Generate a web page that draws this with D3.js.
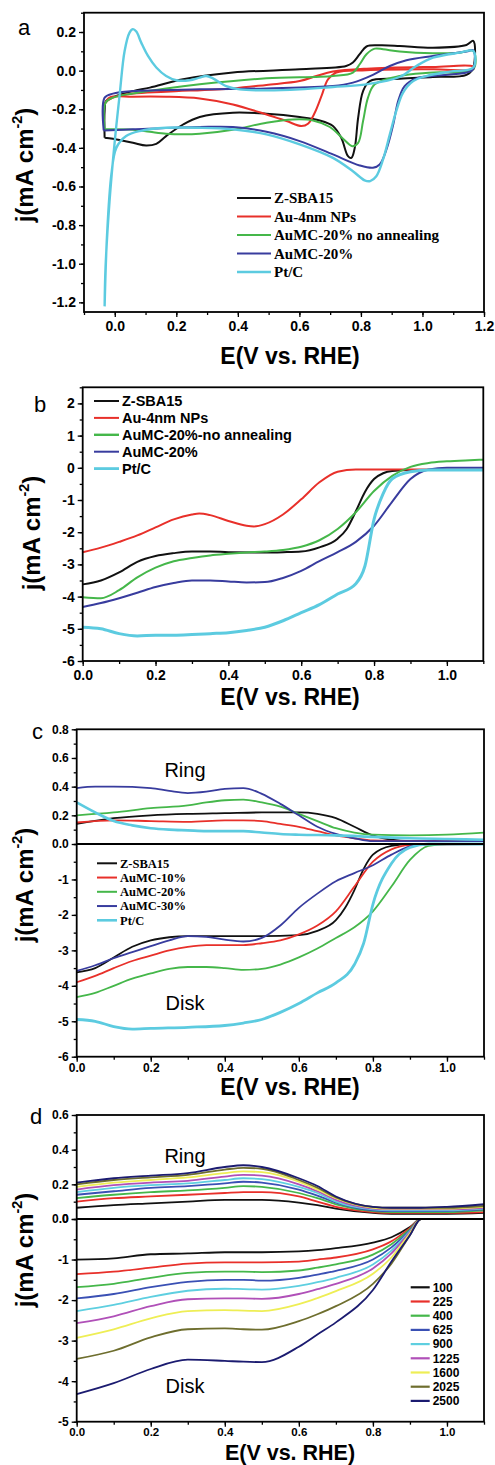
<!DOCTYPE html>
<html>
<head>
<meta charset="utf-8">
<script src="https://cdn.jsdelivr.net/npm/d3@7/dist/d3.min.js"></script>
<style>
body { margin: 0; background: #fff; }
svg text { font-family: Arial, "Liberation Sans", sans-serif; }
.tick text { font-weight: bold; }
</style>
</head>
<body>
<svg id="fig" width="495" height="1465"></svg>
<script>
// ---- panel a : CV loops  [E, j]
var cvZSBA15 = [[-0.033,-0.348],[-0.006,-0.353],[0.059,-0.374],[0.102,-0.388],[0.135,-0.379],[0.167,-0.339],[0.222,-0.279],[0.276,-0.240],[0.384,-0.218],[0.493,-0.223],[0.601,-0.240],[0.666,-0.258],[0.709,-0.287],[0.736,-0.348],[0.758,-0.443],[0.769,-0.452],[0.780,-0.400],[0.791,-0.244],[0.807,-0.106],[0.829,-0.054],[0.926,-0.042],[1.034,-0.033],[1.143,-0.022],[1.165,0.016],[1.165,0.154],[1.143,0.133],[1.034,0.119],[0.926,0.128],[0.861,0.131],[0.818,0.125],[0.796,0.085],[0.774,0.042],[0.752,0.024],[0.601,0.007],[0.384,-0.010],[0.222,-0.045],[0.114,-0.088],[0.059,-0.106],[0.005,-0.131],[-0.028,-0.157],[-0.033,-0.209],[-0.033,-0.348]];
var cvAu4nm = [[-0.033,-0.175],[-0.017,-0.14],[0.059,-0.135],[0.167,-0.135],[0.276,-0.144],[0.384,-0.175],[0.493,-0.227],[0.558,-0.261],[0.607,-0.287],[0.628,-0.275],[0.650,-0.218],[0.672,-0.131],[0.693,-0.045],[0.720,-0.010],[0.818,0.002],[1.034,0.007],[1.165,0.007],[1.165,0.021],[1.034,0.019],[0.818,0.010],[0.709,-0.005],[0.655,-0.028],[0.601,-0.054],[0.493,-0.074],[0.384,-0.092],[0.167,-0.109],[0.059,-0.119],[-0.006,-0.14],[-0.030,-0.166],[-0.033,-0.175]];
var cvAuMC20na = [[-0.033,-0.304],[0.059,-0.306],[0.114,-0.317],[0.167,-0.327],[0.222,-0.330],[0.276,-0.327],[0.384,-0.306],[0.493,-0.270],[0.579,-0.253],[0.644,-0.258],[0.699,-0.292],[0.741,-0.351],[0.772,-0.391],[0.791,-0.374],[0.807,-0.261],[0.823,-0.140],[0.845,-0.071],[0.926,-0.028],[1.034,-0.010],[1.165,0.007],[1.165,0.102],[1.121,0.093],[1.034,0.090],[0.926,0.099],[0.872,0.111],[0.845,0.114],[0.818,0.085],[0.796,0.033],[0.774,-0.010],[0.709,-0.028],[0.493,-0.040],[0.276,-0.071],[0.167,-0.092],[0.059,-0.118],[-0.006,-0.14],[-0.030,-0.166],[-0.033,-0.304]];
var cvAuMC20 = [[-0.036,-0.310],[0.059,-0.304],[0.276,-0.292],[0.384,-0.292],[0.493,-0.317],[0.601,-0.365],[0.709,-0.434],[0.796,-0.491],[0.839,-0.503],[0.861,-0.486],[0.883,-0.408],[0.905,-0.279],[0.921,-0.157],[0.942,-0.080],[0.980,-0.040],[1.034,-0.028],[1.143,-0.010],[1.165,0.007],[1.165,0.106],[1.143,0.099],[1.034,0.076],[0.948,0.054],[0.894,0.024],[0.839,-0.022],[0.774,-0.062],[0.709,-0.080],[0.493,-0.092],[0.276,-0.097],[0.059,-0.106],[-0.006,-0.119],[-0.033,-0.140],[-0.036,-0.310]];
var cvPtC = [[-0.033,-1.221],[-0.030,-1.02],[-0.017,-0.676],[0.000,-0.365],[0.016,-0.123],[0.032,0.102],[0.048,0.197],[0.059,0.215],[0.070,0.202],[0.086,0.145],[0.108,0.076],[0.135,0.016],[0.167,-0.028],[0.200,-0.050],[0.243,-0.050],[0.276,-0.036],[0.297,-0.028],[0.319,-0.040],[0.362,-0.080],[0.406,-0.097],[0.493,-0.102],[0.601,-0.097],[0.709,-0.085],[0.818,-0.071],[0.926,-0.033],[0.980,0.024],[1.034,0.067],[1.121,0.093],[1.165,0.102],[1.165,0.016],[1.089,-0.005],[1.013,-0.028],[0.970,-0.054],[0.937,-0.114],[0.915,-0.209],[0.894,-0.330],[0.872,-0.460],[0.850,-0.547],[0.830,-0.572],[0.812,-0.568],[0.774,-0.521],[0.709,-0.452],[0.601,-0.382],[0.493,-0.330],[0.384,-0.304],[0.276,-0.296],[0.167,-0.296],[0.081,-0.313],[0.037,-0.339],[0.005,-0.400],[-0.011,-0.538],[-0.025,-0.849],[-0.033,-1.221]];
var namesA = ["Z-SBA15", "Au-4nm NPs", "AuMC-20% no annealing", "AuMC-20%", "Pt/C"];

// ---- panel b : LSV disk
var lsvB_ZSBA15 = [[0,-3.62],[0.05,-3.5],[0.1,-3.25],[0.15,-2.92],[0.2,-2.74],[0.25,-2.65],[0.3,-2.6],[0.35,-2.6],[0.4,-2.62],[0.5,-2.63],[0.55,-2.62],[0.6,-2.6],[0.65,-2.47],[0.7,-2.2],[0.725,-1.9],[0.75,-1.35],[0.775,-0.75],[0.8,-0.35],[0.825,-0.17],[0.85,-0.1],[0.9,-0.07],[1.1,-0.07]];
var lsvB_Au4nm = [[0,-2.62],[0.05,-2.48],[0.1,-2.3],[0.15,-2.1],[0.2,-1.85],[0.25,-1.6],[0.3,-1.45],[0.32,-1.42],[0.35,-1.47],[0.4,-1.65],[0.45,-1.8],[0.47,-1.82],[0.5,-1.75],[0.55,-1.45],[0.6,-0.98],[0.65,-0.45],[0.7,-0.12],[0.75,-0.05],[1.1,-0.05]];
var lsvB_AuMC20na = [[0,-4.02],[0.05,-4.05],[0.1,-3.8],[0.15,-3.4],[0.2,-3.1],[0.25,-2.9],[0.3,-2.8],[0.35,-2.72],[0.4,-2.67],[0.45,-2.63],[0.5,-2.6],[0.55,-2.55],[0.6,-2.45],[0.65,-2.25],[0.7,-1.9],[0.75,-1.38],[0.8,-0.72],[0.85,-0.25],[0.9,0.03],[0.95,0.15],[1.0,0.2],[1.05,0.23],[1.1,0.25]];
var lsvB_AuMC20 = [[0,-4.32],[0.05,-4.2],[0.1,-4.05],[0.15,-3.88],[0.2,-3.7],[0.25,-3.58],[0.3,-3.5],[0.35,-3.5],[0.4,-3.53],[0.45,-3.56],[0.5,-3.55],[0.55,-3.42],[0.6,-3.2],[0.65,-2.9],[0.7,-2.62],[0.75,-2.3],[0.8,-1.8],[0.85,-1.05],[0.9,-0.35],[0.95,-0.05],[1.0,0],[1.1,0]];
var lsvB_PtC = [[0,-4.95],[0.05,-5.0],[0.1,-5.15],[0.15,-5.22],[0.2,-5.2],[0.25,-5.2],[0.3,-5.18],[0.35,-5.15],[0.4,-5.12],[0.45,-5.05],[0.5,-4.95],[0.55,-4.75],[0.6,-4.5],[0.65,-4.25],[0.7,-3.92],[0.75,-3.6],[0.775,-3.05],[0.8,-1.6],[0.825,-0.8],[0.85,-0.34],[0.9,-0.12],[0.95,-0.07],[1.1,-0.07]];
var namesB = ["Z-SBA15", "Au-4nm NPs", "AuMC-20%-no annealing", "AuMC-20%", "Pt/C"];

// ---- panel c : ring (upper) and disk (lower)
var ringC_ZSBA15 = [[0,0.14],[0.1,0.18],[0.2,0.2],[0.3,0.21],[0.4,0.215],[0.5,0.22],[0.6,0.22],[0.65,0.21],[0.7,0.18],[0.75,0.12],[0.8,0.06],[0.85,0.03],[0.9,0.02],[1.1,0.02]];
var ringC_AuMC10 = [[0,0.15],[0.1,0.165],[0.2,0.16],[0.3,0.155],[0.4,0.165],[0.45,0.165],[0.5,0.16],[0.55,0.14],[0.6,0.12],[0.65,0.09],[0.7,0.06],[0.75,0.04],[0.8,0.025],[0.9,0.02],[1.1,0.02]];
var ringC_AuMC20 = [[0,0.2],[0.1,0.22],[0.2,0.25],[0.3,0.27],[0.35,0.29],[0.4,0.305],[0.45,0.31],[0.5,0.29],[0.55,0.26],[0.6,0.21],[0.65,0.16],[0.7,0.11],[0.75,0.08],[0.8,0.065],[0.9,0.06],[1.0,0.065],[1.1,0.08]];
var ringC_AuMC30 = [[0,0.39],[0.05,0.4],[0.1,0.4],[0.2,0.39],[0.25,0.37],[0.3,0.355],[0.35,0.365],[0.4,0.385],[0.45,0.39],[0.5,0.35],[0.55,0.28],[0.6,0.2],[0.65,0.12],[0.7,0.07],[0.75,0.04],[0.8,0.02],[0.9,0.02],[1.1,0.02]];
var ringC_PtC = [[0,0.29],[0.05,0.22],[0.1,0.16],[0.15,0.13],[0.2,0.11],[0.25,0.1],[0.3,0.095],[0.35,0.09],[0.45,0.09],[0.5,0.08],[0.55,0.07],[0.6,0.065],[0.7,0.06],[0.8,0.05],[0.9,0.04],[1.0,0.035],[1.1,0.03]];
var diskC_ZSBA15 = [[0,-3.62],[0.05,-3.5],[0.1,-3.2],[0.15,-2.9],[0.2,-2.72],[0.25,-2.63],[0.3,-2.6],[0.4,-2.6],[0.5,-2.6],[0.6,-2.57],[0.65,-2.45],[0.7,-2.15],[0.725,-1.8],[0.75,-1.3],[0.775,-0.7],[0.8,-0.3],[0.85,-0.05],[0.9,0],[1.1,0]];
var diskC_AuMC10 = [[0,-3.9],[0.05,-3.72],[0.1,-3.5],[0.15,-3.3],[0.2,-3.15],[0.25,-3.0],[0.3,-2.9],[0.35,-2.85],[0.45,-2.85],[0.5,-2.8],[0.55,-2.72],[0.6,-2.55],[0.65,-2.3],[0.7,-1.9],[0.75,-1.2],[0.8,-0.5],[0.85,-0.15],[0.9,-0.03],[1.1,0]];
var diskC_AuMC20 = [[0,-4.32],[0.05,-4.2],[0.1,-4.0],[0.15,-3.8],[0.2,-3.65],[0.25,-3.52],[0.3,-3.47],[0.35,-3.47],[0.4,-3.5],[0.45,-3.55],[0.5,-3.52],[0.55,-3.4],[0.6,-3.2],[0.65,-2.95],[0.7,-2.65],[0.75,-2.35],[0.8,-1.9],[0.85,-1.2],[0.9,-0.45],[0.95,-0.05],[1.0,0],[1.1,0]];
var diskC_AuMC30 = [[0,-3.58],[0.05,-3.42],[0.1,-3.22],[0.15,-3.05],[0.2,-2.88],[0.25,-2.72],[0.3,-2.6],[0.35,-2.62],[0.4,-2.7],[0.45,-2.75],[0.5,-2.65],[0.55,-2.3],[0.6,-1.8],[0.65,-1.4],[0.7,-1.05],[0.75,-0.82],[0.8,-0.6],[0.85,-0.3],[0.9,-0.07],[0.95,0],[1.1,0]];
var diskC_PtC = [[0,-4.95],[0.05,-5.0],[0.1,-5.15],[0.15,-5.22],[0.2,-5.2],[0.3,-5.17],[0.4,-5.12],[0.45,-5.05],[0.5,-4.95],[0.55,-4.75],[0.6,-4.5],[0.65,-4.2],[0.7,-3.92],[0.75,-3.4],[0.775,-2.8],[0.8,-1.7],[0.85,-0.55],[0.9,-0.1],[0.95,0],[1.1,0]];
var namesC = ["Z-SBA15", "AuMC-10%", "AuMC-20%", "AuMC-30%", "Pt/C"];

// ---- panel d : rotation rates (rpm)
var rpmD = ["100", "225", "400", "625", "900", "1225", "1600", "2025", "2500"];
var xD = [0, 0.1, 0.2, 0.3, 0.4, 0.45, 0.5, 0.6, 0.65, 0.7, 0.8, 0.85, 0.9, 0.93, 1.0, 1.1];
var diskD_100  = [-1.0, -0.97, -0.87, -0.85, -0.82, -0.82, -0.82, -0.8, -0.77, -0.72, -0.58, -0.45, -0.2, 0, 0, 0];
var diskD_225  = [-1.36, -1.3, -1.2, -1.1, -1.07, -1.07, -1.07, -1.05, -1.0, -0.95, -0.75, -0.55, -0.22, 0, 0, 0];
var diskD_400  = [-1.68, -1.6, -1.45, -1.33, -1.3, -1.3, -1.31, -1.27, -1.2, -1.12, -0.88, -0.62, -0.25, 0, 0, 0];
var diskD_625  = [-1.96, -1.85, -1.68, -1.55, -1.5, -1.5, -1.52, -1.45, -1.37, -1.28, -1.0, -0.7, -0.28, 0, 0, 0];
var diskD_900  = [-2.27, -2.12, -1.92, -1.77, -1.72, -1.73, -1.74, -1.65, -1.56, -1.45, -1.12, -0.78, -0.3, 0, 0, 0];
var diskD_1225 = [-2.57, -2.4, -2.15, -1.98, -1.96, -1.96, -1.97, -1.85, -1.73, -1.6, -1.22, -0.85, -0.32, 0, 0, 0];
var diskD_1600 = [-2.93, -2.72, -2.45, -2.27, -2.25, -2.26, -2.27, -2.1, -1.95, -1.78, -1.35, -0.95, -0.35, 0, 0, 0];
var diskD_2025 = [-3.45, -3.25, -2.92, -2.72, -2.7, -2.72, -2.73, -2.52, -2.35, -2.15, -1.6, -1.1, -0.4, 0, 0, 0];
var diskD_2500 = [-4.32, -4.05, -3.7, -3.47, -3.5, -3.52, -3.53, -3.15, -2.85, -2.55, -1.75, -1.05, -0.4, 0, 0, 0];
var ringD_100  = [0.065, 0.08, 0.09, 0.1, 0.11, 0.11, 0.11, 0.095, 0.08, 0.06, 0.035, 0.03, 0.03, 0.03, 0.03, 0.035];
var ringD_225  = [0.1, 0.12, 0.13, 0.14, 0.15, 0.155, 0.155, 0.13, 0.1, 0.07, 0.04, 0.035, 0.035, 0.035, 0.035, 0.04];
var ringD_400  = [0.12, 0.14, 0.155, 0.165, 0.18, 0.19, 0.185, 0.15, 0.12, 0.085, 0.045, 0.04, 0.04, 0.04, 0.04, 0.05];
var ringD_625  = [0.14, 0.16, 0.18, 0.19, 0.205, 0.215, 0.21, 0.17, 0.135, 0.095, 0.05, 0.045, 0.045, 0.045, 0.045, 0.055];
var ringD_900  = [0.155, 0.18, 0.195, 0.205, 0.225, 0.235, 0.23, 0.185, 0.15, 0.1, 0.055, 0.05, 0.05, 0.05, 0.05, 0.06];
var ringD_1225 = [0.17, 0.195, 0.21, 0.22, 0.245, 0.255, 0.25, 0.2, 0.16, 0.11, 0.06, 0.055, 0.055, 0.055, 0.055, 0.065];
var ringD_1600 = [0.185, 0.21, 0.225, 0.24, 0.265, 0.275, 0.27, 0.215, 0.17, 0.12, 0.065, 0.06, 0.06, 0.06, 0.06, 0.07];
var ringD_2025 = [0.2, 0.225, 0.24, 0.255, 0.285, 0.295, 0.29, 0.225, 0.18, 0.125, 0.07, 0.065, 0.065, 0.065, 0.065, 0.075];
var ringD_2500 = [0.21, 0.235, 0.25, 0.265, 0.3, 0.31, 0.3, 0.235, 0.19, 0.13, 0.07, 0.065, 0.065, 0.065, 0.07, 0.085];

var col5 = ["#111111", "#e8302a", "#45b74a", "#383c9e", "#5ccbe0"];
var colD = ["#111111", "#e8302a", "#45b74a", "#3a50b4", "#5ecfe0", "#b050b8", "#eeee55", "#6e6e2e", "#1b1b70"];
var SERIF = "'Liberation Serif', 'Times New Roman', serif";
var SANS = "Arial, 'Liberation Sans', sans-serif";

var svg = d3.select("#fig");
var fmt1 = function(d){ return (Math.abs(d) < 1e-9 ? 0 : d).toFixed(1); };
var fmt0 = function(d){ return (Math.abs(d) < 1e-9 ? 0 : d).toFixed(0); };

function drawAxis(g, axis, fs){
  g.call(axis);
  g.select(".domain").remove();
  g.selectAll(".tick line").attr("stroke", "#000").attr("stroke-width", 1.3);
  g.selectAll(".tick text").attr("font-size", fs).attr("fill", "#000");
}

function yLabel(x, y, fs){
  var t = svg.append("text").attr("transform", "translate(" + x + "," + y + ") rotate(-90)")
    .attr("text-anchor", "middle").attr("font-weight", "bold").attr("font-size", fs);
  t.append("tspan").text("j(mA cm");
  t.append("tspan").attr("dy", -fs * 0.45).attr("font-size", fs * 0.6).text("-2");
  t.append("tspan").attr("dy", fs * 0.45).text(")");
}
function xLabel(x, y, fs){
  svg.append("text").attr("x", x).attr("y", y).attr("text-anchor", "middle")
    .attr("font-weight", "bold").attr("font-size", fs || 23).text("E(V vs. RHE)");
}
function letter(x, y, s){
  svg.append("text").attr("x", x).attr("y", y).attr("font-size", 22).text(s);
}
function legend(x0, y0, dy, len, names, cols, font, fs, widths){
  names.forEach(function(n, i){
    var yy = y0 + i * dy;
    svg.append("line").attr("x1", x0).attr("x2", x0 + len).attr("y1", yy).attr("y2", yy)
      .attr("stroke", cols[i]).attr("stroke-width", widths ? widths[i] : 2.2);
    svg.append("text").attr("x", x0 + len + 3).attr("y", yy).attr("dy", "0.35em")
      .style("font-family", font).attr("font-weight", "bold").attr("font-size", fs).text(n);
  });
}
function frame(l, r, t, b){
  svg.append("rect").attr("x", l).attr("y", t).attr("width", r - l).attr("height", b - t)
    .attr("fill", "none").attr("stroke", "#000").attr("stroke-width", 1.8);
}
function xAxes(x, b, fs, pad){
  drawAxis(svg.append("g").attr("transform", "translate(0," + b + ")"),
    d3.axisBottom(x).tickValues(d3.range(0, 1.21, 0.2).filter(function(v){ return v <= x.domain()[1] + 1e-6; }))
      .tickFormat(fmt1).tickSize(5).tickPadding(pad), fs);
  drawAxis(svg.append("g").attr("transform", "translate(0," + b + ")"),
    d3.axisBottom(x).tickValues(d3.range(Math.ceil(x.domain()[0] * 10) / 10, x.domain()[1] + 1e-6, 0.1))
      .tickFormat("").tickSize(3), fs);
}
function yAxes(y, l, major, minor, f, fs){
  var g = svg.append("g").attr("transform", "translate(" + l + ",0)");
  drawAxis(g, d3.axisLeft(y).tickValues(major).tickFormat(f).tickSize(5).tickPadding(3), fs);
  drawAxis(svg.append("g").attr("transform", "translate(" + l + ",0)"),
    d3.axisLeft(y).tickValues(minor).tickFormat("").tickSize(3), fs);
  return g;
}
function drawLine(data, x, y, c, w, curve){
  svg.append("path").datum(data)
    .attr("d", d3.line().x(function(d){ return x(d[0]); }).y(function(d){ return y(d[1]); }).curve(curve))
    .attr("fill", "none").attr("stroke", c).attr("stroke-width", w).attr("stroke-linejoin", "round");
}

// ================= panel a =================
(function(){
  var L = 84, R = 484, T = 12.7, B = 312;
  var x = d3.scaleLinear().domain([-0.1, 1.2]).range([L, R]);
  var y = d3.scaleLinear().domain([-1.25, 0.3]).range([B, T]);
  var loops = [cvZSBA15, cvAu4nm, cvAuMC20na, cvAuMC20, cvPtC];
  loops.forEach(function(d, i){ drawLine(d, x, y, col5[i], i == 4 ? 2.4 : 2, d3.curveCatmullRom.alpha(0.5)); });
  frame(L, R, T, B);
  xAxes(x, B, 14, 4);
  yAxes(y, L, d3.range(-1.2, 0.21, 0.2), d3.range(-1.2, 0.31, 0.1), fmt1, 14);
  yLabel(33, 165, 24);
  xLabel(290, 364);
  letter(18, 35, "a");
  legend(237, 198, 18.5, 34, namesA, col5, SERIF, 15, [2.2, 2.2, 2.2, 2.2, 2.6]);
})();

// ================= panel b =================
(function(){
  var L = 82.7, R = 483.3, T = 387.3, B = 661;
  var x = d3.scaleLinear().domain([0, 1.1]).range([L, R]);
  var y = d3.scaleLinear().domain([-6, 2.5]).range([B, T]);
  var curves = [lsvB_ZSBA15, lsvB_Au4nm, lsvB_AuMC20na, lsvB_AuMC20, lsvB_PtC];
  curves.forEach(function(d, i){ drawLine(d, x, y, col5[i], i == 4 ? 3 : 2, d3.curveMonotoneX); });
  frame(L, R, T, B);
  xAxes(x, B, 14, 4);
  yAxes(y, L, d3.range(-6, 2.1, 1), d3.range(-6, 2.51, 0.5), fmt0, 14);
  yLabel(40, 533, 24);
  xLabel(290, 705);
  letter(34, 412, "b");
  legend(94, 401, 16.9, 25, namesB, col5, SANS, 14.5, [2, 2, 2.4, 2, 2.8]);
})();

// ================= panel c =================
(function(){
  var L = 76.7, R = 484, T = 729.3, M = 844, B = 1056.7;
  var x = d3.scaleLinear().domain([0, 1.1]).range([L, R]);
  var yr = d3.scaleLinear().domain([0, 0.8]).range([M, T]);
  var yd = d3.scaleLinear().domain([-6, 0]).range([B, M]);
  var rings = [ringC_ZSBA15, ringC_AuMC10, ringC_AuMC20, ringC_AuMC30, ringC_PtC];
  var disks = [diskC_ZSBA15, diskC_AuMC10, diskC_AuMC20, diskC_AuMC30, diskC_PtC];
  rings.forEach(function(d, i){ drawLine(d, x, yr, col5[i], i == 4 ? 2.6 : 1.8, d3.curveMonotoneX); });
  disks.forEach(function(d, i){ drawLine(d, x, yd, col5[i], i == 4 ? 2.8 : 1.8, d3.curveMonotoneX); });
  frame(L, R, T, B);
  svg.append("line").attr("x1", L).attr("x2", R).attr("y1", M).attr("y2", M).attr("stroke", "#000").attr("stroke-width", 2.2);
  xAxes(x, B, 12, 2);
  yAxes(yr, L, d3.range(0, 0.81, 0.2), d3.range(0, 0.81, 0.1), fmt1, 12);
  yAxes(yd, L, d3.range(-6, -0.9, 1), d3.range(-6, 0.01, 0.5), fmt0, 12);
  yLabel(33, 885, 24);
  xLabel(290, 1095);
  letter(32, 739, "c");
  svg.append("text").attr("x", 185).attr("y", 777).attr("text-anchor", "middle").attr("font-size", 20).text("Ring");
  svg.append("text").attr("x", 185).attr("y", 1010).attr("text-anchor", "middle").attr("font-size", 20).text("Disk");
  legend(97, 863.3, 14.25, 20, namesC, col5, SERIF, 12.5, [2, 2, 2, 2, 2.6]);
})();

// ================= panel d =================
(function(){
  var L = 76.7, R = 484, T = 1115, M = 1219, B = 1421.7;
  var x = d3.scaleLinear().domain([0, 1.1]).range([L, R]);
  var yr = d3.scaleLinear().domain([0, 0.6]).range([M, T]);
  var yd = d3.scaleLinear().domain([-5, 0]).range([B, M]);
  var rings = [ringD_100, ringD_225, ringD_400, ringD_625, ringD_900, ringD_1225, ringD_1600, ringD_2025, ringD_2500];
  var disks = [diskD_100, diskD_225, diskD_400, diskD_625, diskD_900, diskD_1225, diskD_1600, diskD_2025, diskD_2500];
  function pts(arr){ return xD.map(function(v, k){ return [v, arr[k]]; }); }
  rings.forEach(function(d, i){ drawLine(pts(d), x, yr, colD[i], 1.8, d3.curveMonotoneX); });
  disks.forEach(function(d, i){ drawLine(pts(d), x, yd, colD[i], 1.8, d3.curveMonotoneX); });
  frame(L, R, T, B);
  svg.append("line").attr("x1", L).attr("x2", R).attr("y1", M).attr("y2", M).attr("stroke", "#000").attr("stroke-width", 2.2);
  xAxes(x, B, 11.5, 1);
  yAxes(yr, L, d3.range(0, 0.61, 0.2), d3.range(0, 0.61, 0.1), fmt1, 12);
  yAxes(yd, L, d3.range(-5, 0.01, 1), d3.range(-5, 0.01, 0.5), fmt0, 12);
  yLabel(33, 1250, 24);
  xLabel(290, 1459.5, 21.5);
  letter(30, 1124, "d");
  svg.append("text").attr("x", 185).attr("y", 1163).attr("text-anchor", "middle").attr("font-size", 20).text("Ring");
  svg.append("text").attr("x", 185).attr("y", 1393).attr("text-anchor", "middle").attr("font-size", 20).text("Disk");
  legend(410.7, 1287.3, 14.2, 19, rpmD, colD, SANS, 12);
})();
</script>
</body>
</html>
